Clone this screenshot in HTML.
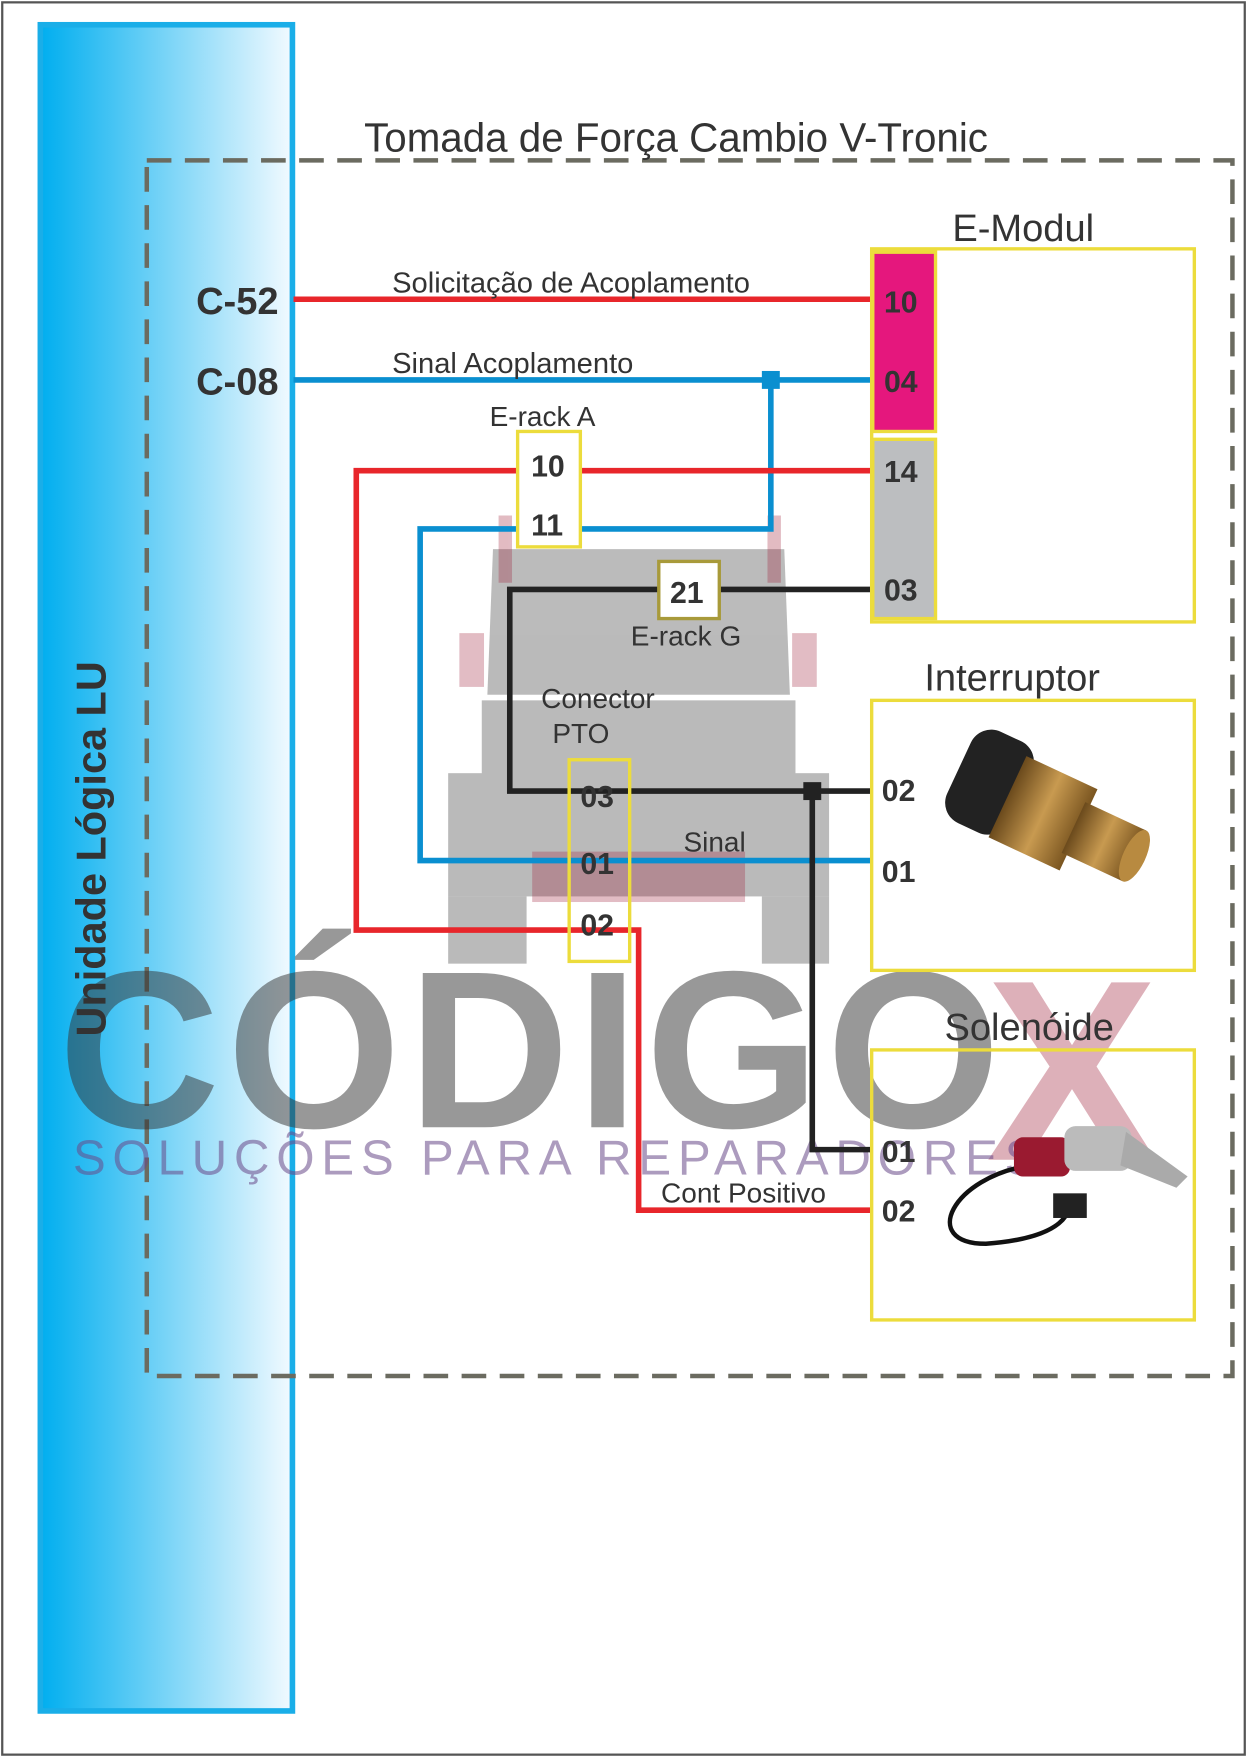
<!DOCTYPE html>
<html><head><meta charset="utf-8"><style>html,body{margin:0;padding:0;background:#fff}svg{display:block}text{font-family:"Liberation Sans",sans-serif}</style></head><body>
<svg width="1247" height="1757" viewBox="0 0 1113 1568" xmlns="http://www.w3.org/2000/svg">
<defs>
<linearGradient id="bl" x1="0" x2="1"><stop offset="0" stop-color="#00aeef"/><stop offset="1" stop-color="#f2faff"/></linearGradient>
<linearGradient id="br" x1="0" x2="1"><stop offset="0" stop-color="#6b4a1c"/><stop offset="0.5" stop-color="#c89a50"/><stop offset="1" stop-color="#7a5520"/></linearGradient>
</defs>
<rect x="2" y="2" width="1109" height="1564" fill="#fff" stroke="#555" stroke-width="2"/>
<rect x="36" y="22" width="225" height="1505" fill="url(#bl)" stroke="#1aaee8" stroke-width="5"/>
<rect x="131" y="143" width="969" height="1085" fill="none" stroke="#6b6b60" stroke-width="4" stroke-dasharray="22,12"/>
<text x="325" y="135" font-size="36" fill="#333">Tomada de Força Cambio V-Tronic</text>
<text transform="translate(94,925) rotate(-90)" font-size="37" font-weight="bold" fill="#333">Unidade Lógica LU</text>

<!-- truck watermark -->
<g opacity="0.4" fill="#555">
<path d="M440 490 L700 490 L705 620 L435 620 Z"/>
<rect x="430" y="625" width="280" height="70"/>
<rect x="400" y="690" width="340" height="110"/>
<rect x="400" y="800" width="70" height="60"/>
<rect x="680" y="800" width="60" height="60"/>
</g>
<g opacity="0.3" fill="#a0203a">
<rect x="410" y="565" width="22" height="48"/><rect x="707" y="565" width="22" height="48"/>
<rect x="475" y="760" width="190" height="45"/>
<path d="M445 460 l12 0 l0 60 l-12 0z M685 460 l12 0 l0 60 l-12 0z"/>
</g>
<text x="52" y="1006" font-size="200" fill="#333" opacity="0.5" letter-spacing="6" font-weight="bold">CÓDIGO</text>
<text x="880" y="1035" font-size="230" font-weight="bold" fill="#a0203a" opacity="0.35">X</text>
<text x="65" y="1048" font-size="44" fill="#6a4a8a" opacity="0.55" letter-spacing="6">SOLUÇÕES PARA REPARADORES</text>

<!-- wires -->
<g fill="none" stroke-width="5">
<path d="M262 267 H778" stroke="#e8262b"/>
<path d="M262 339 H778" stroke="#0a8fd0"/>
<path d="M688 339 V472 H375 V768 H778" stroke="#0a8fd0"/>
<path d="M778 420 H318 V830 H570 V1080 H778" stroke="#e8262b"/>
<path d="M778 526 H455 V706 H778" stroke="#222"/>
<path d="M725 706 V1026 H778" stroke="#222"/>
</g>
<rect x="680" y="331" width="16" height="16" fill="#0a8fd0"/>
<rect x="717" y="698" width="16" height="16" fill="#222"/>

<text x="350" y="261" font-size="26" fill="#333">Solicitação de Acoplamento</text>
<text x="350" y="333" font-size="26" fill="#333">Sinal Acoplamento</text>
<text x="175" y="280" font-size="34" font-weight="bold" fill="#333">C-52</text>
<text x="175" y="352" font-size="34" font-weight="bold" fill="#333">C-08</text>

<!-- E-Modul -->
<rect x="778" y="222" width="288" height="333" fill="none" stroke="#ecdc3c" stroke-width="3"/>
<rect x="779" y="225" width="56" height="160" fill="#e5177d" stroke="#ecdc3c" stroke-width="3"/>
<rect x="779" y="392" width="56" height="160" fill="#bcbec0" stroke="#ecdc3c" stroke-width="3"/>
<text x="850" y="215" font-size="34" fill="#333">E-Modul</text>
<g font-size="27" font-weight="bold" fill="#333">
<text x="789" y="279">10</text><text x="789" y="350">04</text><text x="789" y="430">14</text><text x="789" y="536">03</text>
</g>

<!-- E-rack A -->
<rect x="462" y="385" width="56" height="103" fill="#fff" stroke="#ecdc3c" stroke-width="3"/>
<text x="437" y="380" font-size="25" fill="#333">E-rack A</text>
<text x="474" y="425" font-size="27" font-weight="bold" fill="#333">10</text>
<text x="474" y="478" font-size="27" font-weight="bold" fill="#333">11</text>
<!-- E-rack G -->
<rect x="588" y="501" width="54" height="51" fill="#fff" stroke="#a89a3a" stroke-width="3"/>
<text x="598" y="538" font-size="27" font-weight="bold" fill="#333">21</text>
<text x="563" y="576" font-size="25" fill="#333">E-rack G</text>
<!-- Conector PTO -->
<rect x="508" y="678" width="54" height="180" fill="none" stroke="#ecdc3c" stroke-width="3"/>
<text x="483" y="632" font-size="25" fill="#333">Conector</text>
<text x="493" y="663" font-size="25" fill="#333">PTO</text>
<g font-size="27" font-weight="bold" fill="#333"><text x="518" y="720">03</text><text x="518" y="780">01</text><text x="518" y="835">02</text></g>
<text x="610" y="760" font-size="25" fill="#333">Sinal</text>
<text x="590" y="1073" font-size="25" fill="#333">Cont Positivo</text>

<!-- Interruptor -->
<rect x="778" y="625" width="288" height="241" fill="#fff" stroke="#ecdc3c" stroke-width="3"/>
<text x="825" y="616" font-size="34" fill="#333">Interruptor</text>
<g font-size="27" font-weight="bold" fill="#333"><text x="787" y="715">02</text><text x="787" y="787">01</text></g>
<g transform="rotate(25 940 730)">
<rect x="845" y="680" width="60" height="90" rx="20" fill="#222"/>
<rect x="895" y="690" width="70" height="80" fill="url(#br)"/>
<rect x="960" y="705" width="60" height="50" fill="url(#br)"/>
<ellipse cx="1020" cy="730" rx="10" ry="25" fill="#b88a40"/>
</g>
<!-- Solenoide -->
<rect x="778" y="937" width="288" height="241" fill="none" stroke="#ecdc3c" stroke-width="3"/>
<text x="843" y="928" font-size="34" fill="#333">Solenóide</text>
<g font-size="27" font-weight="bold" fill="#333"><text x="787" y="1037">01</text><text x="787" y="1090">02</text></g>
<path d="M920 1040 C850 1050 820 1110 880 1110 C950 1105 960 1080 950 1070" fill="none" stroke="#111" stroke-width="4"/>
<rect x="940" y="1065" width="30" height="22" fill="#222"/>
<rect x="905" y="1015" width="50" height="35" rx="8" fill="#9a1a30"/>
<rect x="950" y="1005" width="60" height="40" rx="10" fill="#bbb"/>
<path d="M1005 1010 L1060 1050 L1050 1060 L1000 1040Z" fill="#aaa"/>
</svg>
</body></html>
